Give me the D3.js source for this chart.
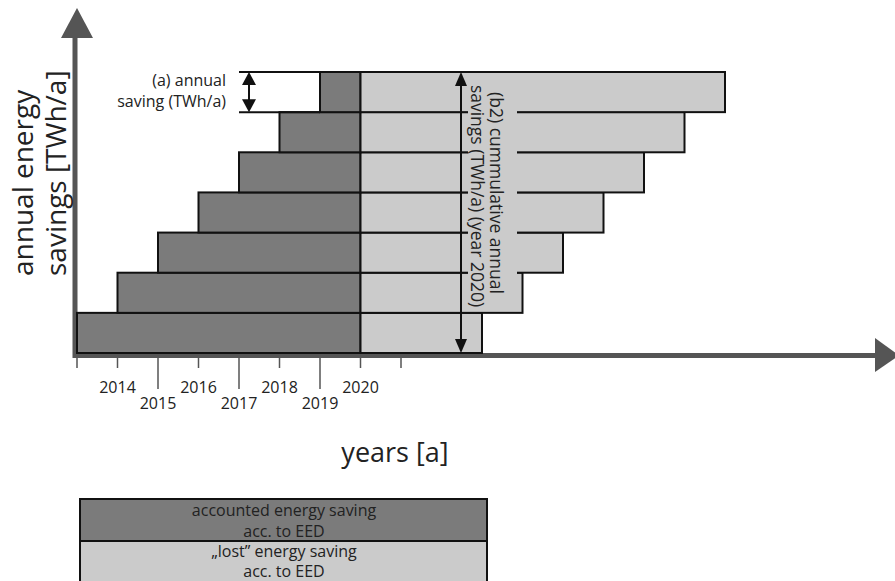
<!DOCTYPE html>
<html lang="en">
<head>
	<meta charset="utf-8">
	<title>Annual energy savings</title>
	<script src="https://d3js.org/d3.v7.min.js"></script>
	<style>
		body { margin: 0; background: #fff; }
		text { font-family: "Open Sans", "Noto Sans", sans-serif; fill: #222; }
	</style>
</head>
<body>
	<div id="chart"></div>
	<script>
		// data
		let startYears = [2013, 2014, 2015, 2016, 2017, 2018, 2019];
		let endYears = [2023, 2024, 2025, 2026, 2027, 2028, 2029];
		let refYear = 2020;
		let tickYears = [2013, 2014, 2015, 2016, 2017, 2018, 2019, 2020, 2021];
		let tickLabels = ["", "2014", "2015", "2016", "2017", "2018", "2019", "2020", ""];
		let legendLabels = [["accounted energy saving", "acc. to EED"], ["\u201Elost\u201D energy saving", "acc. to EED"]];

		let width = 895, height = 581;
		let dark = "#7b7b7b", light = "#cbcbcb", axisCol = "#555555";

		let svg = d3.select("#chart").append("svg")
			.attr("width", width)
			.attr("height", height);

		let x = d3.scaleLinear().domain([2013, 2021]).range([77, 401]);
		let y = d3.scaleLinear().domain([0, startYears.length]).range([353, 72]);

		// axes with arrows
		svg.append("line").attr("x1", 75).attr("x2", 75).attr("y1", 36).attr("y2", 358)
			.attr("stroke", axisCol).attr("stroke-width", 5);
		svg.append("path").attr("d", "M77,8 L61,38 L93,38 Z").attr("fill", axisCol);
		svg.append("line").attr("x1", 73).attr("x2", 878).attr("y1", 355.5).attr("y2", 355.5)
			.attr("stroke", axisCol).attr("stroke-width", 5);
		svg.append("path").attr("d", "M875,338 L899,355.5 L875,372 Z").attr("fill", axisCol);

		// ticks
		svg.selectAll(".tick").data(tickYears).enter().append("line")
			.attr("x1", d => x(d)).attr("x2", d => x(d))
			.attr("y1", 358)
			.attr("y2", d => (d % 2 === 1 && d > 2013 && d < 2021) ? 389 : 368)
			.attr("stroke", axisCol).attr("stroke-width", 1.5);
		svg.selectAll(".tlab").data(tickYears).enter().append("text")
			.attr("x", d => x(d))
			.attr("y", d => d % 2 === 0 ? 393 : 409)
			.attr("text-anchor", "middle")
			.attr("font-size", 16)
			.text((d, i) => tickLabels[i]);

		// bars: dark part up to 2020, light part after
		let rows = svg.selectAll(".row").data(startYears).enter().append("g");
		rows.append("rect")
			.attr("x", d => x(d))
			.attr("y", (d, i) => y(i + 1))
			.attr("width", d => x(refYear) - x(d))
			.attr("height", (d, i) => y(i) - y(i + 1))
			.attr("fill", dark).attr("stroke", "#111").attr("stroke-width", 2);
		rows.append("rect")
			.attr("x", x(refYear))
			.attr("y", (d, i) => y(i + 1))
			.attr("width", (d, i) => x(endYears[i]) - x(refYear))
			.attr("height", (d, i) => y(i) - y(i + 1))
			.attr("fill", light).attr("stroke", "#111").attr("stroke-width", 2);

		// background behind the vertical label (row lines break here)
		svg.append("rect").attr("x", 468).attr("y", y(7) + 2).attr("width", 49)
			.attr("height", y(1) - y(7) - 4).attr("fill", light);

		// (a) annual saving annotation
		let topRow = startYears.length - 1;
		[y(topRow + 1), y(topRow)].forEach(v => {
			svg.append("line").attr("x1", x(2017)).attr("x2", x(2019)).attr("y1", v).attr("y2", v)
				.attr("stroke", "#111").attr("stroke-width", 2);
		});
		let ax = 249;
		svg.append("line").attr("x1", ax).attr("x2", ax).attr("y1", y(topRow + 1) + 8).attr("y2", y(topRow) - 8)
			.attr("stroke", "#111").attr("stroke-width", 2);
		svg.append("path").attr("d", `M${ax},${y(topRow + 1)} L${ax - 7},${y(topRow + 1) + 13} L${ax + 7},${y(topRow + 1) + 13} Z`).attr("fill", "#111");
		svg.append("path").attr("d", `M${ax},${y(topRow)} L${ax - 7},${y(topRow) - 13} L${ax + 7},${y(topRow) - 13} Z`).attr("fill", "#111");
		svg.append("text").attr("x", 226).attr("y", 86).attr("text-anchor", "end").attr("font-size", 16).text("(a) annual");
		svg.append("text").attr("x", 226).attr("y", 107).attr("text-anchor", "end").attr("font-size", 16).text("saving (TWh/a)");

		// (b2) cumulative arrow
		let bx = 461;
		svg.append("line").attr("x1", bx).attr("x2", bx).attr("y1", y(7) + 8).attr("y2", y(0) - 8)
			.attr("stroke", "#111").attr("stroke-width", 2);
		svg.append("path").attr("d", `M${bx},${y(7)} L${bx - 6},${y(7) + 14} L${bx + 6},${y(7) + 14} Z`).attr("fill", "#111");
		svg.append("path").attr("d", `M${bx},${y(0)} L${bx - 6},${y(0) - 14} L${bx + 6},${y(0) - 14} Z`).attr("fill", "#111");
		svg.append("text").attr("transform", "translate(490,193) rotate(90)")
			.attr("text-anchor", "middle").attr("font-size", 17.5).text("(b2) cummulative annual");
		svg.append("text").attr("transform", "translate(471,196) rotate(90)")
			.attr("text-anchor", "middle").attr("font-size", 17.5).text("savings (TWh/a) (year 2020)");

		// axis titles
		svg.append("text").attr("transform", "translate(33,276) rotate(-90)")
			.attr("font-size", 28).text("annual energy");
		svg.append("text").attr("transform", "translate(66,276) rotate(-90)")
			.attr("font-size", 28).text("savings [TWh/a]");
		svg.append("text").attr("x", 395).attr("y", 462).attr("text-anchor", "middle")
			.attr("font-size", 27).text("years [a]");

		// legend
		let leg = svg.selectAll(".leg").data(legendLabels).enter().append("g");
		leg.append("rect").attr("x", 80).attr("y", (d, i) => 499 + i * 42)
			.attr("width", 407).attr("height", 42)
			.attr("fill", (d, i) => i === 0 ? dark : light)
			.attr("stroke", "#111").attr("stroke-width", 2);
		leg.append("text").attr("x", 284).attr("y", (d, i) => 516 + i * 41)
			.attr("text-anchor", "middle").attr("font-size", 16).text(d => d[0]);
		leg.append("text").attr("x", 284).attr("y", (d, i) => 537 + i * 40)
			.attr("text-anchor", "middle").attr("font-size", 16).text(d => d[1]);
	</script>
</body>
</html>
